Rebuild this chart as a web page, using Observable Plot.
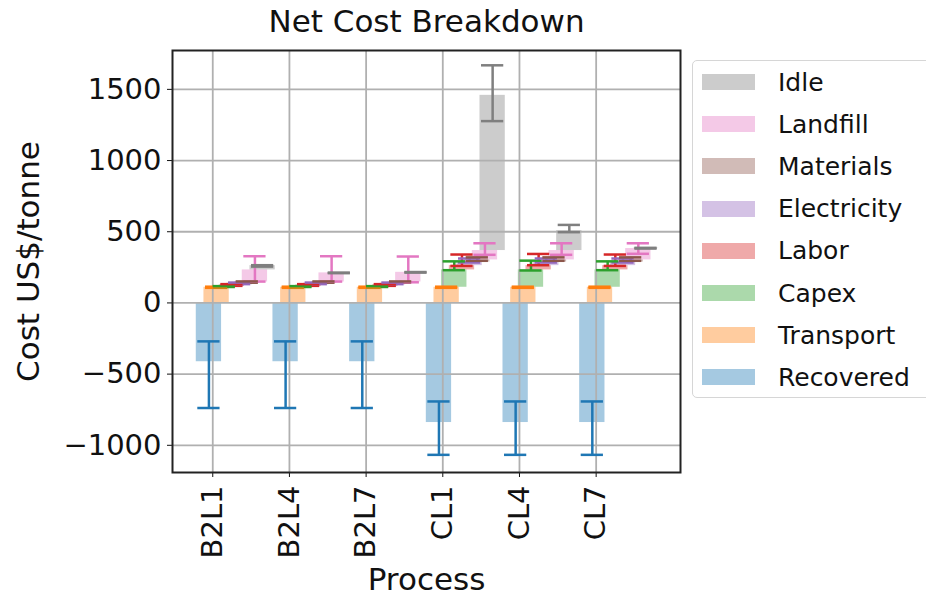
<!DOCTYPE html>
<html>
<head>
<meta charset="utf-8">
<script src="https://cdn.jsdelivr.net/npm/d3@7"></script>
<script src="https://cdn.jsdelivr.net/npm/@observablehq/plot@0.6"></script>
<style>
  body { margin: 0; background: #fff; overflow: hidden; font-family: "DejaVu Sans", sans-serif; }
  #wrap { position: relative; width: 926px; height: 600px; overflow: hidden; }
  #legend { position: absolute; left: 692px; top: 60px; width: 245px; height: 338px; border: 1.5px solid #d6d6d6;
            border-radius: 5px; box-sizing: border-box; background: #fff; }
  .row { height: 42.2px; display: flex; align-items: center; }
  .sw { width: 53px; height: 16px; margin-left: 9px; margin-right: 23px; flex: none; }
  .lab { font-size: 25px; color: #111; white-space: nowrap; }
</style>
</head>
<body>
<div id="wrap"><div id="legend"></div></div>
<script>
// Processes along the x axis
const processes = ["B2L1", "B2L4", "B2L7", "CL1", "CL4", "CL7"];

// Cost components (US$/tonne), stacked as a waterfall in this order
const seriesNames = ["Recovered", "Transport", "Capex", "Labor", "Electricity", "Materials", "Landfill", "Idle"];
const seriesColors = ["#1f77b4", "#ff7f0e", "#2ca02c", "#d62728", "#9467bd", "#8c564b", "#e377c2", "#7f7f7f"];

const recovered   = [-413, -413, -413, -840, -840, -840];
const transport   = [110, 110, 110, 110, 110, 110];
const capex       = [5, 5, 5, 122, 122, 122];
const labor       = [12, 12, 12, 30, 30, 30];
const electricity = [12, 12, 12, 25, 25, 25];
const materials   = [8, 8, 8, 15, 15, 15];
const landfill    = [85, 64, 68, 66, 66, 80];
const idle        = [30, 0, 0, 1090, 140, 2];

// Uncertainty range (absolute low / high ends of the whiskers)
const recoveredLo   = [-738, -738, -738, -1067, -1067, -1067];
const recoveredHi   = [-270, -270, -270, -692, -692, -692];
const transportLo   = [106, 106, 106, 106, 106, 106];
const transportHi   = [114, 114, 114, 114, 114, 114];
const capexLo       = [112, 112, 112, 230, 228, 230];
const capexHi       = [118, 118, 118, 292, 297, 292];
const laborLo       = [120, 120, 120, 260, 265, 260];
const laborHi       = [132, 132, 132, 340, 344, 340];
const electricityLo = [132, 132, 132, 284, 284, 284];
const electricityHi = [143, 143, 143, 312, 312, 312];
const materialsLo   = [142, 142, 142, 296, 296, 296];
const materialsHi   = [151, 151, 151, 320, 320, 320];
const landfillLo    = [150, 150, 145, 338, 338, 345];
const landfillHi    = [328, 328, 326, 419, 419, 419];
const idleLo        = [255, 209, 213, 1277, 497, 382];
const idleHi        = [265, 213, 217, 1669, 548, 387];

const yTicks = [-1000, -500, 0, 500, 1000, 1500];

const seriesValues = [recovered, transport, capex, labor, electricity, materials, landfill, idle];
const seriesLo = [recoveredLo, transportLo, capexLo, laborLo, electricityLo, materialsLo, landfillLo, idleLo];
const seriesHi = [recoveredHi, transportHi, capexHi, laborHi, electricityHi, materialsHi, landfillHi, idleHi];

// Each component is shifted right a little and starts where the previous one ended
const step = 0.1, shift0 = -0.05, barHalf = 0.165, capHalf = 0.145;
const rows = [];
processes.forEach((p, i) => {
  let cum = 0;
  seriesNames.forEach((s, k) => {
    const v = seriesValues[k][i];
    let base = 0;
    if (k > 0) { base = cum; cum += v; }
    rows.push({
      process: p, series: s, x: i + shift0 + k * step,
      base, top: base + v, lo: seriesLo[k][i], hi: seriesHi[k][i], color: seriesColors[k]
    });
  });
});

const chart = Plot.plot({
  width: 926,
  height: 600,
  marginLeft: 172,
  marginRight: 246,
  marginTop: 50,
  marginBottom: 128,
  style: { fontFamily: "DejaVu Sans", color: "#111", background: "#fff" },
  x: { type: "linear", domain: [-0.525, 6.1] },
  y: { domain: [-1191, 1773] },
  color: { type: "identity" },
  marks: [
    Plot.rect(rows, {
      x1: d => d.x - barHalf, x2: d => d.x + barHalf, y1: "base", y2: "top",
      fill: "color", fillOpacity: 0.4
    }),
    Plot.gridX({ ticks: d3.range(processes.length), stroke: "#b0b0b0", strokeOpacity: 1, strokeWidth: 1.8 }),
    Plot.gridY({ ticks: yTicks, stroke: "#b0b0b0", strokeOpacity: 1, strokeWidth: 1.8 }),
    Plot.ruleX(rows, { x: "x", y1: "lo", y2: "hi", stroke: "color", strokeWidth: 2.5 }),
    Plot.ruleY(rows, { y: "lo", x1: d => d.x - capHalf, x2: d => d.x + capHalf, stroke: "color", strokeWidth: 2.5 }),
    Plot.ruleY(rows, { y: "hi", x1: d => d.x - capHalf, x2: d => d.x + capHalf, stroke: "color", strokeWidth: 2.5 }),
    Plot.axisY({ ticks: yTicks, tickFormat: d3.format("d"), tickSize: 5, tickPadding: 6, fontSize: 29, label: null }),
    Plot.axisX({
      ticks: d3.range(processes.length), tickFormat: i => processes[i], tickRotate: -90,
      fontSize: 29, tickSize: 5, tickPadding: 8, label: null
    }),
    Plot.frame({ stroke: "#222", strokeWidth: 2 }),
    Plot.text(["Net Cost Breakdown"], {
      frameAnchor: "top", textAnchor: "middle", lineAnchor: "middle", dy: -28, fontSize: 31, fill: "#111"
    }),
    Plot.text(["Cost US$/tonne"], {
      frameAnchor: "left", textAnchor: "middle", lineAnchor: "middle", dx: -143, rotate: -90, fontSize: 31, fill: "#111"
    }),
    Plot.text(["Process"], {
      frameAnchor: "bottom", textAnchor: "middle", lineAnchor: "middle", dy: 108, fontSize: 31, fill: "#111"
    })
  ]
});
document.getElementById("wrap").prepend(chart);

// Legend, listed top-down from the last component to the first
const legend = d3.select("#legend");
seriesNames.map((s, k) => ({ s, c: seriesColors[k] })).reverse().forEach(({ s, c }) => {
  const row = legend.append("div").attr("class", "row");
  row.append("div").attr("class", "sw").style("background", c).style("opacity", 0.4);
  row.append("div").attr("class", "lab").text(s);
});
</script>
</body>
</html>
